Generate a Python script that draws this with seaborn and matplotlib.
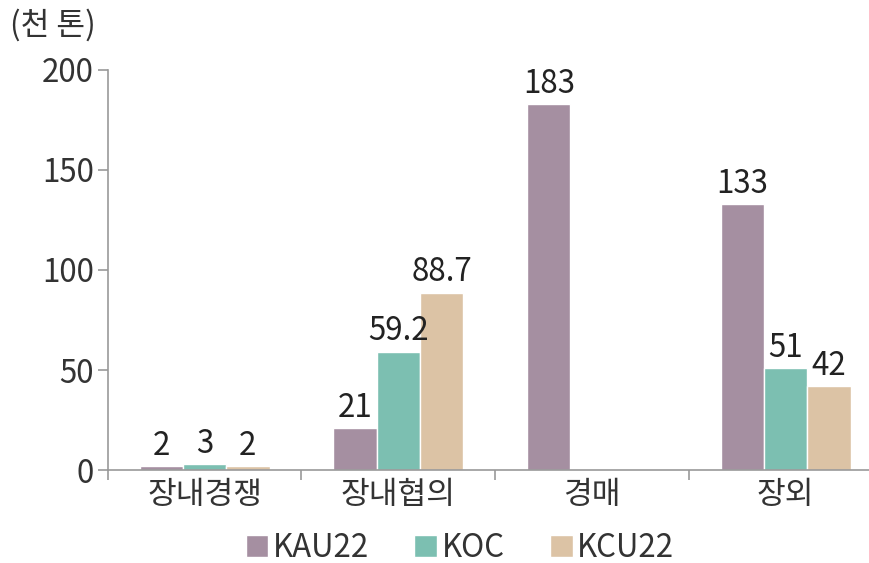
import pandas as pd
import matplotlib.pyplot as plt
import numpy as np
import seaborn as sns

sns.set_style('white')
plt.rcParams['font.family'] = ['Noto Sans CJK KR', 'DejaVu Sans']

categories = ['장내경쟁', '장내협의', '경매', '장외']
kau22 = [2, 21, 183, 133]
koc = [3, 59.2, np.nan, 51]
kcu22 = [2, 88.7, np.nan, 42]
series = ['KAU22', 'KOC', 'KCU22']
colors = ['#a58fa1', '#7cbfb1', '#dcc3a5']

df = pd.DataFrame({'구분': categories * 3,
                   '값': kau22 + koc + kcu22,
                   '종류': [s for s in series for _ in categories]})

fs = 22.5
fig = plt.figure(figsize=(8.69, 5.63), dpi=100)
ax = fig.add_axes([0.124, 0.165, 0.885, 0.711])

sns.barplot(data=df, x='구분', y='값', hue='종류', palette=colors,
            width=0.67, ax=ax, saturation=1)

for cont in ax.containers:
    labels = ['' if np.isnan(v) else f'{v:g}' for v in cont.datavalues]
    ax.bar_label(cont, labels=labels, padding=3, fontsize=fs, color='#222222')

ax.set_ylim(0, 200)
ax.set_xlim(-0.5, 3.47)
ax.set_yticks([0, 50, 100, 150, 200])
ax.set_xlabel('')
ax.set_ylabel('')
ax.tick_params(axis='y', left=True, length=7, width=1.2, color='#999999',
               labelsize=fs, labelcolor='#333333', pad=3)
ax.tick_params(axis='x', bottom=False, labelsize=fs, labelcolor='#333333', pad=3)
ax.set_xticks([-0.5, 0.5, 1.5, 2.5], minor=True)
ax.tick_params(axis='x', which='minor', bottom=True, length=7, width=1.2,
               color='#999999')
sns.despine(ax=ax)
for s in ['left', 'bottom']:
    ax.spines[s].set_color('#999999')
    ax.spines[s].set_linewidth(1.2)

ax.legend(loc='center', bbox_to_anchor=(0.458, -0.195), ncol=3,
          frameon=False, fontsize=fs, handlelength=0.72, handleheight=0.72,
          handletextpad=0.15, columnspacing=1.45, labelcolor='#333333',
          borderpad=0)

fig.text(0.012, 0.955, '(천 톤)', fontsize=fs, color='#333333', va='center')

plt.savefig('out.png', dpi=100)
